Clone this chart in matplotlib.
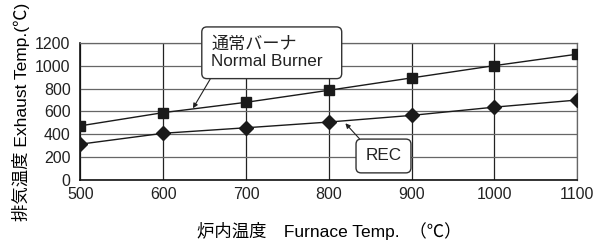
import matplotlib
matplotlib.use('Agg')
import matplotlib.pyplot as plt

# 炉内温度 (x) と排気温度 (y)
furnace_temp = [500, 600, 700, 800, 900, 1000, 1100]
normal_burner = [475, 590, 680, 785, 893, 1000, 1100]
rec = [315, 410, 458, 508, 566, 638, 700]
yticks = [0, 200, 400, 600, 800, 1000, 1200]

plt.rcParams['font.family'] = ['Liberation Sans', 'Noto Sans CJK JP']
plt.rcParams['text.color'] = '#222222'

fig = plt.figure(figsize=(6.02, 2.42), dpi=100)
ax = fig.add_axes([0.1334, 0.255, 0.959 - 0.1334, 0.8236 - 0.255])

ax.plot(furnace_temp, normal_burner, color='#1a1a1a', lw=1, marker='s', ms=7.5, zorder=3)
ax.plot(furnace_temp, rec, color='#1a1a1a', lw=1, marker='D', ms=7, zorder=3)

ax.set_xlim(500, 1100)
ax.set_ylim(0, 1200)
ax.set_xticks(furnace_temp)
ax.set_yticks(yticks)
ax.tick_params(length=0, labelsize=11.5, colors='#222222')
ax.tick_params(axis='y', pad=7)
ax.tick_params(axis='x', pad=5)
ax.grid(axis='x', color='#222222', lw=0.9)
ax.grid(axis='y', color='#666666', lw=0.9)
ax.set_axisbelow(True)
for s in ['top', 'right']:
    ax.spines[s].set_color('#666666')
    ax.spines[s].set_linewidth(0.9)
for s in ['left', 'bottom']:
    ax.spines[s].set_color('#111111')
    ax.spines[s].set_linewidth(1.2)

ax.set_ylabel('排気温度 Exhaust Temp.(℃)', fontsize=12.5, labelpad=4)
ax.set_xlabel('炉内温度　Furnace Temp.  （℃）', fontsize=12.5, labelpad=14)

box = dict(boxstyle='round,pad=0.55,rounding_size=0.3', fc='white', ec='#333333', lw=1)
ax.annotate('通常バーナ\nNormal Burner  ', xy=(636, 628), xytext=(658, 1112),
            fontsize=12.3, ha='left', va='center', bbox=box, linespacing=1.2,
            arrowprops=dict(arrowstyle='-|>', color='#222222', lw=0.8,
                            mutation_scale=7, shrinkA=0, shrinkB=0, relpos=(0.04, 0)))
ax.annotate('REC', xy=(820, 497), xytext=(866, 212),
            fontsize=12.3, ha='center', va='center', bbox=box,
            arrowprops=dict(arrowstyle='-|>', color='#222222', lw=0.8,
                            mutation_scale=7, shrinkA=0, shrinkB=0, relpos=(0.08, 1)))

fig.savefig('out.png', dpi=100)
